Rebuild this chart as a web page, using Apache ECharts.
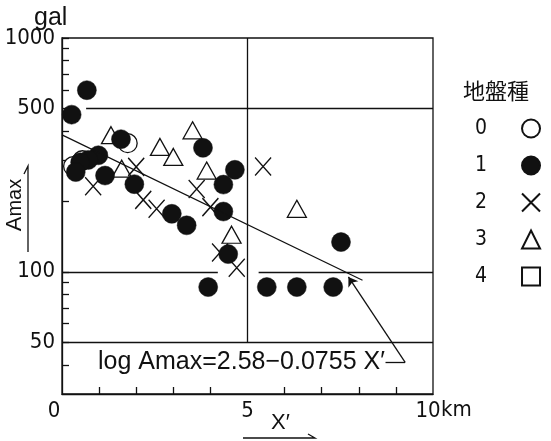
<!DOCTYPE html>
<html>
<head>
<meta charset="utf-8">
<script src="https://cdn.jsdelivr.net/npm/echarts@6/dist/echarts.min.js"></script>
<style>
  html, body { margin: 0; padding: 0; background: #fff; }
  #chart { width: 551px; height: 441px; }
</style>
</head>
<body>
<div id="chart"></div>
<script>
// ---- data (X' in km, Amax in gal) ----
const seriesNames = ['0', '1', '2', '3', '4'];
const ground0 = [[0.3, 283], [0.55, 300], [1.77, 355]];
const ground1 = [
  [0.67, 598], [0.26, 470], [1.59, 369], [0.98, 315], [0.71, 301], [0.49, 294],
  [0.37, 267], [1.16, 258], [1.95, 237], [3.8, 339], [4.66, 273], [4.35, 236],
  [2.96, 177], [3.36, 158], [4.35, 181], [4.48, 119], [3.94, 86], [5.52, 86],
  [6.33, 86], [7.31, 86], [7.52, 134]
];
const ground2 = [
  [0.84, 232], [2.0, 281], [2.19, 203], [2.55, 186], [3.63, 226], [4.0, 189],
  [4.26, 121], [4.71, 104], [5.42, 282]
];
const ground3 = [
  [1.32, 384], [1.61, 276], [2.64, 342], [3.0, 310], [3.52, 403], [3.9, 271],
  [4.57, 144], [6.33, 186]
];
const ground4 = [];
const regression = [[0, 385], [8.1, 92]];
const yLabelValues = [50, 100, 500, 1000];
const yTickValues = [40, 50, 60, 70, 80, 90, 100, 200, 300, 400, 500, 600, 700, 800, 900, 1000];
const xTickValues = [1, 2, 3, 4, 6, 7, 8, 9];
const xLabelValues = [0, 5, 10];
const equationText = 'log Amax=2.58\u22120.0755 X\u2032';

const NUM_FONT = '"Liberation Sans Narrow", "DejaVu Sans Condensed", "Liberation Sans", sans-serif';
const TXT_FONT = '"Liberation Sans", "DejaVu Sans", sans-serif';
const INK = '#111';

const crossPath = 'path://M0,0L10,10M10,0L0,10';

const chart = echarts.init(document.getElementById('chart'), null, { renderer: 'canvas' });

const lineStyle = { color: INK, width: 1.3, type: 'solid' };

chart.setOption({
  animation: false,
  backgroundColor: '#fff',
  grid: {
    left: 62, right: 118, top: 38, bottom: 47, containLabel: false, outerBoundsMode: 'none',
    show: true, borderColor: INK, borderWidth: 1.3, backgroundColor: 'transparent'
  },
  xAxis: {
    type: 'value', min: 0, max: 10, interval: 1,
    name: 'km', nameLocation: 'end', nameGap: 8, nameMoveOverlap: false,
    nameTextStyle: { fontFamily: NUM_FONT, fontSize: 22, color: INK, verticalAlign: 'top', padding: [5, 0, 0, 0] },
    axisLine: { show: true, onZero: false, lineStyle: { color: INK, width: 1.3 } },
    axisTick: { show: true, inside: true, length: 7, customValues: xTickValues, lineStyle: { color: INK, width: 1.3 } },
    splitLine: { show: false },
    axisLabel: {
      customValues: xLabelValues, margin: 6, color: INK, fontFamily: NUM_FONT, fontSize: 22,
      formatter: function (v) { if (v === 0) return '{l|0}'; if (v === 10) return '{t|10}'; return String(v); },
      rich: {
        l: { fontFamily: NUM_FONT, fontSize: 22, color: INK, padding: [0, 16, 0, 0] },
        t: { fontFamily: NUM_FONT, fontSize: 22, color: INK, padding: [0, 10, 0, 0] }
      }
    }
  },
  yAxis: {
    type: 'log', logBase: 10, min: 30, max: 1000,
    name: '{a|A}{b|max}', nameLocation: 'middle', nameGap: 36, nameRotate: 90, nameMoveOverlap: false,
    nameTextStyle: {
      padding: [0, 0, 0, 22],
      rich: {
        a: { fontFamily: TXT_FONT, fontSize: 22, color: INK },
        b: { fontFamily: TXT_FONT, fontSize: 20, color: INK }
      }
    },
    axisLine: { show: true, lineStyle: { color: INK, width: 1.3 } },
    axisTick: { show: true, inside: true, length: 7, customValues: yTickValues, lineStyle: { color: INK, width: 1.3 } },
    minorTick: { show: false },
    splitLine: { show: false },
    axisLabel: {
      customValues: yLabelValues, margin: 7, color: INK, fontFamily: NUM_FONT, fontSize: 22,
      formatter: function (v) { return String(Math.round(v)); }
    }
  },
  legend: {
    orient: 'vertical', left: 470, top: 113, align: 'right',
    itemWidth: 18, itemHeight: 18, itemGap: 16,
    selectedMode: false,
    textStyle: { fontFamily: NUM_FONT, fontSize: 21, color: INK, padding: [0, 30, 0, 0] },
    data: seriesNames.map(function (n) { return { name: n }; })
  },
  graphic: [
    { type: 'text', left: 34, top: 6, style: { text: 'gal', fontFamily: TXT_FONT, fontSize: 25, fill: INK } },
    { type: 'text', left: 463, top: 80, style: { text: '地盤種', fontFamily: '"Noto Sans CJK JP", sans-serif', fontSize: 22, fill: INK } },
    { type: 'text', left: 98, top: 350, style: { text: equationText, fontFamily: TXT_FONT, fontSize: 25, fill: INK } },
    { type: 'text', left: 271, top: 412, style: { text: 'X\u2032', fontFamily: TXT_FONT, fontSize: 22, fill: INK } },
    { type: 'polyline', shape: { points: [[243, 438], [315, 438], [308, 434]] }, style: { stroke: INK, lineWidth: 1.3, fill: null } },
    { type: 'polyline', shape: { points: [[28, 252], [28, 166], [24, 174]] }, style: { stroke: INK, lineWidth: 1.3, fill: null } }
  ],
  series: [
    {
      name: '0', type: 'scatter', data: ground0, symbol: 'circle', symbolSize: 19, z: 2,
      itemStyle: { color: '#fff', borderColor: INK, borderWidth: 1.3, opacity: 1 }
    },
    {
      name: '3', type: 'scatter', data: ground3, symbol: 'triangle', symbolSize: [19, 17], z: 3,
      itemStyle: { color: '#fff', borderColor: INK, borderWidth: 1.3, opacity: 1 }
    },
    {
      name: '2', type: 'scatter', data: ground2, symbol: crossPath, symbolSize: [16, 18], z: 4,
      itemStyle: { color: 'transparent', borderColor: INK, borderWidth: 1.4, opacity: 1 }
    },
    {
      name: '1', type: 'scatter', data: ground1, symbol: 'circle', symbolSize: 19, z: 5,
      itemStyle: { color: INK, borderColor: INK, borderWidth: 0.5, opacity: 1 }
    },
    {
      name: '4', type: 'scatter', data: ground4, symbol: 'rect', symbolSize: 15, z: 2,
      itemStyle: { color: '#fff', borderColor: INK, borderWidth: 1.3, opacity: 1 }
    },
    {
      name: 'regression', type: 'line', data: regression, symbol: 'none', z: 6,
      lineStyle: { color: INK, width: 1.2 },
      markLine: {
        silent: true, symbol: ['none', 'none'], label: { show: false },
        lineStyle: lineStyle, emphasis: { disabled: true },
        data: [
          [{ coord: [0.65, 500] }, { coord: [10, 500] }],
          [{ coord: [0, 100] }, { coord: [4.2, 100] }],
          [{ coord: [5.3, 100] }, { coord: [10, 100] }],
          [{ coord: [0, 50] }, { coord: [10, 50] }],
          [{ coord: [5, 50] }, { coord: [5, 1000] }],
          [{ coord: [8.72, 41] }, { coord: [9.25, 41] }],
          [{ coord: [9.25, 41], symbol: 'none' }, { coord: [7.72, 95], symbol: 'arrow', symbolSize: 9 }]
        ]
      }
    }
  ]
});
</script>
</body>
</html>
